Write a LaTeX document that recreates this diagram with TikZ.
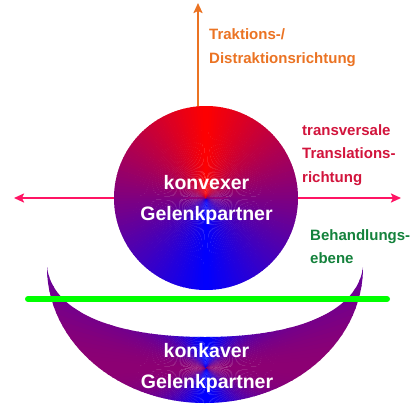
\documentclass[tikz,border=0pt]{standalone}
\usepackage{fontspec}
\setmainfont{Liberation Sans}
\usetikzlibrary{arrows.meta}
\definecolor{orangeC}{RGB}{235,115,35}
\definecolor{crimsonC}{RGB}{210,20,60}
\definecolor{pinkC}{RGB}{255,20,100}
\definecolor{greenT}{RGB}{20,130,60}
\definecolor{greenL}{RGB}{0,255,0}
\begin{document}
\begin{tikzpicture}[x=1pt,y=-1pt,
  lbl/.style={anchor=base west, inner sep=0pt, font=\bfseries\fontsize{15}{18}\selectfont},
  inlbl/.style={anchor=base, inner sep=0pt, text=white, font=\bfseries\fontsize{19.5}{22}\selectfont},
  >={Stealth[length=10pt,width=9pt,inset=2pt]}]
\useasboundingbox[fill=white] (0,0) rectangle (410,410);
% named points
\coordinate (hl) at (14,198);
\coordinate (hr) at (401,198);
\coordinate (vb) at (198,110);
\coordinate (vt) at (198,3);
\coordinate (gl) at (28,299);
\coordinate (gr) at (387,299);
\coordinate (bowl) at (206,368);
% bowl (concave partner)
\begin{scope}
\clip (47,267) arc[start angle=180,end angle=0,x radius=158,y radius=136]
  .. controls (358,310) and (300,337) .. (205,337)
  .. controls (110,337) and (52,310) .. (47,267) -- cycle;
\foreach \a in {0,2,...,358}{
  \pgfmathsetmacro\p{55*cos(\a+1)*cos(\a+1)}
  \fill[red!\p!blue] (bowl) -- ++(\a:220) arc[start angle=\a,end angle=\a+2.4,radius=220] -- cycle;
}
\end{scope}
% arrows behind the circle
\draw[pinkC, line width=2pt, <->] (hl) -- (hr);
\draw[orangeC, line width=2pt, ->] (vb) -- (vt);
% circle (convex partner)
\node[circle, minimum size=184pt, inner sep=0pt] (conv) at (206,198) {};
\begin{scope}
\foreach \a in {0,2,...,358}{
  \pgfmathsetmacro\d{min(abs(\a+1-270),360-abs(\a+1-270))}
  \pgfmathsetmacro\p{100-\d/1.8}
  \fill[red!\p!blue] (conv.center) -- ++(\a:92) arc[start angle=\a,end angle=\a+2.4,radius=92] -- cycle;
}
\end{scope}
% green plane
\draw[greenL, line width=6pt, line cap=round] (gl) -- (gr);
% labels
\node[inlbl] (t1) at (206.5,189) {konvexer};
\node[inlbl] (t2) at (206.5,220) {Gelenkpartner};
\node[inlbl] (t3) at (206.5,357) {konkaver};
\node[inlbl] (t4) at (207,388) {Gelenkpartner};
\node[lbl, text=orangeC] (o1) at (209,39) {Traktions-/};
\node[lbl, text=orangeC] (o2) at (209,63) {Distraktionsrichtung};
\node[lbl, text=crimsonC] (r1) at (302,135) {transversale};
\node[lbl, text=crimsonC] (r2) at (302,158) {Translations-};
\node[lbl, text=crimsonC] (r3) at (302,182) {richtung};
\node[lbl, text=greenT] (g1) at (310,240) {Behandlungs-};
\node[lbl, text=greenT] (g2) at (310,263) {ebene};
\end{tikzpicture}
\end{document}
